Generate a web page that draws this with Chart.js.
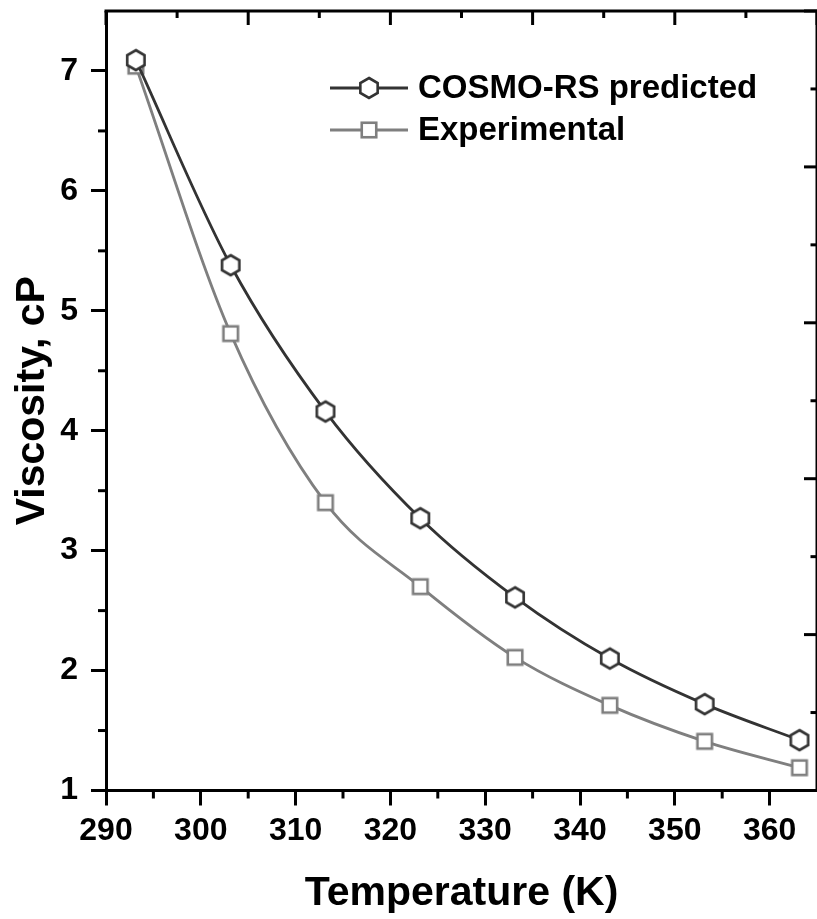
<!DOCTYPE html>
<html>
<head>
<meta charset="utf-8">
<script src="https://cdn.jsdelivr.net/npm/chart.js@4/dist/chart.umd.min.js"></script>
<style>
html,body{margin:0;padding:0;background:#fff;overflow:hidden;width:817px;height:919px;}
canvas{display:block;}
</style>
</head>
<body>
<canvas id="c" width="817" height="919" style="width:817px;height:919px"></canvas>
<script>
// ---- data ----
const temperatures = [293.15, 303.15, 313.15, 323.15, 333.15, 343.15, 353.15, 363.15];
const cosmoPredicted = [7.09, 5.38, 4.16, 3.27, 2.61, 2.10, 1.72, 1.42];
const experimental = [7.04, 4.81, 3.40, 2.70, 2.11, 1.71, 1.41, 1.19];
const xTickValues = [290, 300, 310, 320, 330, 340, 350, 360];
const yTickValues = [1, 2, 3, 4, 5, 6, 7];
const xMinorValues = [295, 305, 315, 325, 335, 345, 355];
const yMinorValues = [1.5, 2.5, 3.5, 4.5, 5.5, 6.5];
const seriesLabels = ['COSMO-RS predicted', 'Experimental'];

const FONT = "'Liberation Sans', Arial, Helvetica, sans-serif";
const darkCol = '#333333';
const greyCol = '#7f7f7f';

function makeHex(color) {
  const c = document.createElement('canvas');
  c.width = 28; c.height = 28;
  const g = c.getContext('2d');
  const R = 10, cx = 14, cy = 14;
  g.beginPath();
  for (let i = 0; i < 6; i++) {
    const ang = -Math.PI / 2 + i * Math.PI / 3;
    const px = cx + R * Math.cos(ang), py = cy + R * Math.sin(ang);
    if (i === 0) g.moveTo(px, py); else g.lineTo(px, py);
  }
  g.closePath();
  g.fillStyle = '#fff';
  g.fill();
  g.lineWidth = 2.6;
  g.lineJoin = 'miter';
  g.strokeStyle = color;
  g.stroke();
  return c;
}
function makeSquare(color) {
  const c = document.createElement('canvas');
  c.width = 24; c.height = 24;
  const g = c.getContext('2d');
  g.fillStyle = '#fff';
  g.fillRect(4.75, 4.75, 14.5, 14.5);
  g.lineWidth = 2.6;
  g.strokeStyle = color;
  g.strokeRect(4.75, 4.75, 14.5, 14.5);
  return c;
}
const hexImg = makeHex(darkCol);
const sqImg = makeSquare(greyCol);

const zeroPad = s => { s.paddingLeft = 0; s.paddingRight = 0; s.paddingTop = 0; s.paddingBottom = 0; };

const decor = {
  id: 'decor',
  afterDraw(chart) {
    const {ctx, chartArea: a, scales: {x, y}} = chart;
    ctx.save();
    ctx.strokeStyle = '#000';
    ctx.lineWidth = 3;
    ctx.lineCap = 'butt';
    const seg = (x1, y1, x2, y2) => { ctx.beginPath(); ctx.moveTo(x1, y1); ctx.lineTo(x2, y2); ctx.stroke(); };
    // top & right frame
    seg(a.left - 1.5, a.top, a.right + 1.5, a.top);
    seg(a.right, a.top, a.right, a.bottom + 1.5);
    // minor ticks outward
    yMinorValues.forEach(v => { const p = y.getPixelForValue(v); seg(a.left - 8, p, a.left, p); });
    xMinorValues.forEach(v => { const p = x.getPixelForValue(v); seg(p, a.bottom, p, a.bottom + 8); });
    // top axis ticks inward (10 divisions)
    for (let i = 0; i <= 10; i++) {
      const p = a.left + i * (a.right - a.left) / 10;
      seg(p, a.top, p, a.top + (i % 2 === 0 ? 14 : 7));
    }
    // right axis ticks inward (10 divisions)
    for (let i = 0; i <= 10; i++) {
      const p = a.bottom - i * (a.bottom - a.top) / 10;
      seg(a.right, p, a.right - (i % 2 === 0 ? 13 : 6.5), p);
    }
    // legend
    const rows = [
      {label: seriesLabels[0], color: darkCol, img: hexImg, lw: 2.8},
      {label: seriesLabels[1], color: greyCol, img: sqImg, lw: 2.8}
    ];
    const lx0 = a.left + 224, lx1 = a.left + 302, mx = a.left + 263, tx = a.left + 312;
    const ys = [a.top + 77, a.top + 119];
    ctx.font = 'bold 33px ' + FONT;
    ctx.textBaseline = 'middle';
    ctx.textAlign = 'left';
    rows.forEach((r, i) => {
      ctx.strokeStyle = r.color;
      ctx.lineWidth = r.lw;
      seg(lx0, ys[i], lx1, ys[i]);
      ctx.drawImage(r.img, mx - r.img.width / 2, ys[i] - r.img.height / 2);
      ctx.fillStyle = '#000';
      ctx.fillText(r.label, tx, ys[i] + 1);
    });
    ctx.restore();
  }
};

new Chart(document.getElementById('c'), {
  type: 'line',
  data: {
    datasets: [
      {
        label: seriesLabels[0],
        data: temperatures.map((t, i) => ({x: t, y: cosmoPredicted[i]})),
        borderColor: darkCol,
        borderWidth: 2.8,
        pointStyle: hexImg,
        cubicInterpolationMode: 'monotone',
        fill: false
      },
      {
        label: seriesLabels[1],
        data: temperatures.map((t, i) => ({x: t, y: experimental[i]})),
        borderColor: greyCol,
        borderWidth: 2.8,
        pointStyle: sqImg,
        cubicInterpolationMode: 'monotone',
        fill: false
      }
    ]
  },
  options: {
    responsive: false,
    maintainAspectRatio: false,
    animation: false,
    devicePixelRatio: 1,
    layout: {autoPadding: false, padding: {left: 0, top: 11, right: 0, bottom: 0}},
    plugins: {legend: {display: false}, tooltip: {enabled: false}},
    elements: {point: {radius: 10}},
    scales: {
      x: {
        type: 'linear',
        min: 290, max: 365,
        afterBuildTicks: s => { s.ticks = xTickValues.map(v => ({value: v})); },
        afterFit: s => { s.height = 128.5; zeroPad(s); },
        border: {display: true, color: '#000', width: 3},
        grid: {display: true, drawOnChartArea: false, drawTicks: true, tickLength: 15, tickWidth: 3, tickColor: '#000'},
        ticks: {color: '#000', font: {family: FONT, size: 32, weight: 'bold'}, padding: 6, maxRotation: 0, autoSkip: false},
        title: {display: true, text: 'Temperature (K)', color: '#000', font: {family: FONT, size: 41, weight: 'bold'}, padding: {top: 1, bottom: 1}}
      },
      y: {
        type: 'linear',
        min: 1, max: 7.5,
        afterBuildTicks: s => { s.ticks = yTickValues.map(v => ({value: v})); },
        afterFit: s => { s.width = 106; zeroPad(s); },
        border: {display: true, color: '#000', width: 3},
        grid: {display: true, drawOnChartArea: false, drawTicks: true, tickLength: 15, tickWidth: 3, tickColor: '#000'},
        ticks: {color: '#000', font: {family: FONT, size: 32, weight: 'bold'}, padding: 13, autoSkip: false},
        title: {display: true, text: 'Viscosity, cP', color: '#000', font: {family: FONT, size: 41, weight: 'bold'}, padding: {top: 8, bottom: 0}}
      }
    }
  },
  plugins: [decor]
});
</script>
</body>
</html>
